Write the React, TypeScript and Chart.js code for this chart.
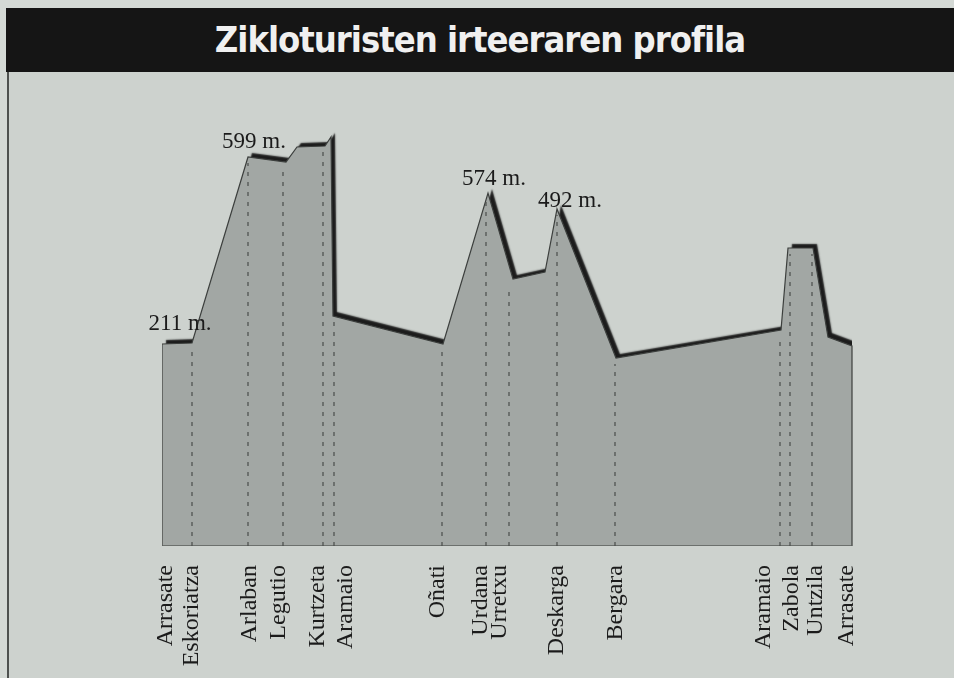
import React, { useEffect, useRef } from "react";
import { Chart, registerables } from "chart.js";

Chart.register(...registerables);

// Stations along the route (x = km along the drawing, heights in drawing units)
const stations = [
  "Arrasate", "Eskoriatza", "Arlaban", "Legutio", "Kurtzeta", "Aramaio",
  "Oñati", "Urdana", "Urretxu", "Deskarga", "Bergara", "Aramaio",
  "Zabola", "Untzila", "Arrasate",
];
const stationKm = [0, 3.0, 8.6, 12.1, 16.1, 17.2, 28.0, 32.4, 34.7, 39.5, 45.3, 61.8, 62.8, 65.0, 69.0];
const stationHeight = [101, 101.5, 194.5, 191, 200, 115, 101, 176, 132, 168.5, 94, 108, 149, 149, 100];

// Profile outline vertices
const profileKm = [0, 0, 3.0, 8.6, 12.4, 13.5, 16.3, 16.9, 17.1, 28.1, 32.6, 35.1, 38.3, 39.5, 45.4, 61.9, 62.6, 65.1, 66.6, 69.0, 69.0];
const profileHeight = [0, 101, 101.5, 194.5, 192, 199.5, 200, 204.5, 115, 101, 176.5, 133.5, 137, 168.5, 94, 108, 149, 149, 104.5, 100, 0];

// Altitude call-outs
const peakLabels = ["211 m.", "599 m.", "574 m.", "492 m."];
const peakStation = [0, 2, 7, 9];

const BG = "#cdd2ce";
const FILL = "#a2a7a4";

export default function App() {
  const ref = useRef<HTMLCanvasElement>(null);

  useEffect(() => {
    document.body.style.margin = "0";
    const canvas = ref.current;
    if (!canvas) return;

    const profileData = profileKm.map((x, i) => ({ x, y: profileHeight[i] }));
    const dashData: { x: number; y: number | null }[] = [];
    for (let i = 1; i < stations.length - 1; i++) {
      dashData.push({ x: stationKm[i], y: 0 });
      dashData.push({ x: stationKm[i], y: stationHeight[i] - 3 });
      dashData.push({ x: stationKm[i], y: null });
    }
    const baseData = [
      { x: profileKm[0], y: 0 },
      { x: profileKm[profileKm.length - 1], y: 0 },
    ];

    const labelNudge = [10, 6, 8, 2, 1, 18, 2, 1, -3, 6, 7, -10, 8, 10, 1];
    const peakOffset = [
      [18, -14],
      [6, -9],
      [8, -9],
      [13, -2],
    ];

    const decor = {
      id: "profileDecor",
      beforeDatasetsDraw(chart: any) {
        const ctx = chart.ctx;
        ctx.shadowColor = "rgba(18,18,18,0.95)";
        ctx.shadowOffsetX = 4;
        ctx.shadowOffsetY = -4;
        ctx.shadowBlur = 1.5;
      },
      beforeDatasetDraw(chart: any) {
        const ctx = chart.ctx;
        ctx.shadowColor = "rgba(0,0,0,0)";
        ctx.shadowOffsetX = 0;
        ctx.shadowOffsetY = 0;
        ctx.shadowBlur = 0;
      },
      afterDraw(chart: any) {
        const ctx = chart.ctx;
        const xs = chart.scales.x;
        const ys = chart.scales.y;
        ctx.save();
        ctx.shadowColor = "rgba(0,0,0,0)";
        ctx.fillStyle = "#1b1b1b";
        ctx.font = '24px "Liberation Serif"';
        ctx.textBaseline = "alphabetic";
        stations.forEach((name, i) => {
          const px = xs.getPixelForValue(stationKm[i]) + labelNudge[i];
          ctx.save();
          ctx.translate(px, 565);
          ctx.rotate(-Math.PI / 2);
          ctx.textAlign = "right";
          ctx.fillText(name, 0, 0);
          ctx.restore();
        });
        ctx.font = '23px "Liberation Serif"';
        ctx.textAlign = "center";
        peakLabels.forEach((t, i) => {
          const s = peakStation[i];
          const px = xs.getPixelForValue(stationKm[s]) + peakOffset[i][0];
          const py = ys.getPixelForValue(stationHeight[s]) + peakOffset[i][1];
          ctx.fillText(t, px, py);
        });
        ctx.restore();
      },
    };

    const chart = new Chart(canvas, {
      type: "line",
      data: {
        datasets: [
          {
            label: "profile",
            data: profileData,
            borderColor: "#3c3f3d",
            borderWidth: 1.2,
            backgroundColor: FILL,
            fill: "origin",
            pointRadius: 0,
            tension: 0,
            order: 3,
          },
          {
            label: "base",
            data: baseData,
            borderColor: "#5a5e5b",
            borderWidth: 1.5,
            fill: false,
            pointRadius: 0,
            order: 2,
          },
          {
            label: "stations",
            data: dashData,
            borderColor: "#4a4d4b",
            borderWidth: 1.2,
            borderDash: [4, 6],
            fill: false,
            pointRadius: 0,
            spanGaps: false,
            order: 1,
          },
        ],
      },
      options: {
        responsive: false,
        animation: false,
        devicePixelRatio: 1,
        layout: { padding: { left: 162, right: 98, top: 100, bottom: 132 } },
        scales: {
          x: { type: "linear", min: 0, max: 69.4, display: false },
          y: { type: "linear", min: 0, max: 223, display: false },
        },
        plugins: {
          legend: { display: false },
          tooltip: { enabled: false },
          title: { display: false },
        },
      },
      plugins: [decor],
    } as any);

    return () => chart.destroy();
  }, []);

  return (
    <div
      style={{
        position: "relative",
        width: 954,
        height: 678,
        background: "#d4d9d5",
        overflow: "hidden",
      }}
    >
      <div
        style={{
          position: "absolute",
          left: 7,
          top: 72,
          width: 947,
          height: 606,
          background: BG,
          borderLeft: "2px solid #4e514f",
          boxSizing: "border-box",
        }}
      />
      <div
        style={{
          position: "absolute",
          left: 6,
          top: 8,
          width: 948,
          height: 64,
          background: "#151515",
          color: "#f0f0f0",
          fontFamily: '"DejaVu Sans Condensed", sans-serif',
          fontWeight: 700,
          fontSize: 36,
          letterSpacing: "-1px",
          lineHeight: "64px",
          textAlign: "center",
          whiteSpace: "nowrap",
        }}
      >
        Zikloturisten irteeraren profila
      </div>
      <canvas
        ref={ref}
        width={954}
        height={678}
        style={{ position: "absolute", left: 0, top: 0 }}
      />
    </div>
  );
}
